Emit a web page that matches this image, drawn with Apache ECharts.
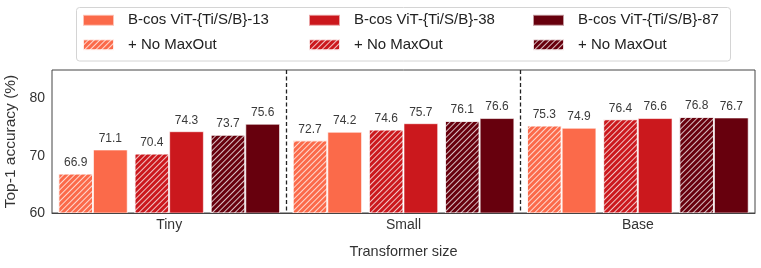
<!DOCTYPE html>
<html>
<head>
<meta charset="utf-8">
<script src="https://cdn.jsdelivr.net/npm/echarts@6/dist/echarts.min.js"></script>
<style>html,body{margin:0;padding:0;background:#fff}#c{width:761px;height:268px}</style>
</head>
<body>
<div id="c"></div>
<script>
const categories = ['Tiny', 'Small', 'Base'];
const noMaxOut13 = [66.9, 72.7, 75.3];
const bcos13 = [71.1, 74.2, 74.9];
const noMaxOut38 = [70.4, 74.6, 76.4];
const bcos38 = [74.3, 75.7, 76.6];
const noMaxOut87 = [73.7, 76.1, 76.8];
const bcos87 = [75.6, 76.6, 76.7];
const solidNames = ['B-cos ViT-{Ti/S/B}-13', 'B-cos ViT-{Ti/S/B}-38', 'B-cos ViT-{Ti/S/B}-87'];
const hatchNames = ['+ No MaxOut (13)', '+ No MaxOut (38)', '+ No MaxOut (87)'];
const hatchLabel = '+ No MaxOut';
const colors = ['#fb6a4a', '#cb181d', '#67000d'];

const FONT = "'Liberation Sans', sans-serif";
const BAR_W = 34.7, SPACER_W = 6.75;

const decal = {
  symbol: 'rect', symbolSize: 1,
  color: 'rgba(255,255,255,0.75)',
  dashArrayX: [1, 0], dashArrayY: [1, 2.4],
  rotation: -Math.PI / 4
};

function barSeries(name, data, color, hatched) {
  return {
    type: 'bar', name: name, data: data, barWidth: BAR_W, barGap: '0%',
    itemStyle: Object.assign({ color: color, borderColor: 'rgba(255,255,255,0.6)', borderWidth: 1 }, hatched ? { decal: decal } : {}),
    label: {
      show: true, position: 'top', distance: 5, color: '#3a3a3a',
      fontFamily: FONT, fontSize: 12,
      formatter: p => p.value.toFixed(1)
    }
  };
}
function spacer() {
  return { type: 'bar', name: '', data: categories.map(() => '-'), barWidth: SPACER_W, barGap: '0%', silent: true, label: { show: false } };
}

const chart = echarts.init(document.getElementById('c'), null, { renderer: 'canvas' });
const legendCommon = {
  orient: 'vertical', padding: 0, itemWidth: 31, itemHeight: 11, itemGap: 9.4, top: 12.8,
  icon: 'rect', selectedMode: false,
  textStyle: { fontFamily: FONT, fontSize: 15, color: '#222', lineHeight: 15, padding: [0, 0, 0, 9] },
  formatter: n => (n.indexOf('+ No MaxOut') === 0 ? hatchLabel : n)
};
chart.setOption({
  animation: false,
  textStyle: { fontFamily: FONT },
  graphic: [{
    type: 'rect', z: -1, silent: true,
    shape: { x: 76.5, y: 7.5, width: 654, height: 53.5, r: 3 },
    style: { fill: '#fff', stroke: '#d4d4d4', lineWidth: 1 }
  }],
  legend: [
    Object.assign({}, legendCommon, { left: 82, data: [solidNames[0], hatchNames[0]] }),
    Object.assign({}, legendCommon, { left: 308, data: [solidNames[1], hatchNames[1]] }),
    Object.assign({}, legendCommon, { left: 532, data: [solidNames[2], hatchNames[2]] })
  ],
  grid: { left: 52, right: 6, top: 70, bottom: 55, outerBoundsMode: 'none', containLabel: false, show: true, borderColor: '#444', borderWidth: 1, backgroundColor: 'transparent' },
  xAxis: {
    type: 'category', data: categories, z: 5,
    axisLine: { show: true, lineStyle: { color: '#444', width: 1 } },
    axisTick: { show: false },
    axisLabel: { margin: 5, fontFamily: FONT, fontSize: 14, color: '#333' },
    splitLine: { show: true, showMinLine: false, showMaxLine: false, lineStyle: { type: [4, 2.5], color: '#222', width: 1.3 } },
    name: 'Transformer size', nameLocation: 'middle', nameGap: 31,
    nameTextStyle: { fontFamily: FONT, fontSize: 14.5, color: '#333' }
  },
  yAxis: {
    type: 'value', min: 60, max: 85, interval: 10,
    axisLine: { show: false }, axisTick: { show: false }, splitLine: { show: false },
    axisLabel: { margin: 7, fontFamily: FONT, fontSize: 14, color: '#333', showMaxLabel: false },
    name: 'Top-1 accuracy (%)', nameLocation: 'middle', nameGap: 27, nameRotate: 90,
    nameTextStyle: { fontFamily: FONT, fontSize: 15.5, color: '#333' }
  },
  series: [
    barSeries(hatchNames[0], noMaxOut13, colors[0], true),
    barSeries(solidNames[0], bcos13, colors[0], false),
    spacer(),
    barSeries(hatchNames[1], noMaxOut38, colors[1], true),
    barSeries(solidNames[1], bcos38, colors[1], false),
    spacer(),
    barSeries(hatchNames[2], noMaxOut87, colors[2], true),
    barSeries(solidNames[2], bcos87, colors[2], false)
  ]
});
</script>
</body>
</html>
